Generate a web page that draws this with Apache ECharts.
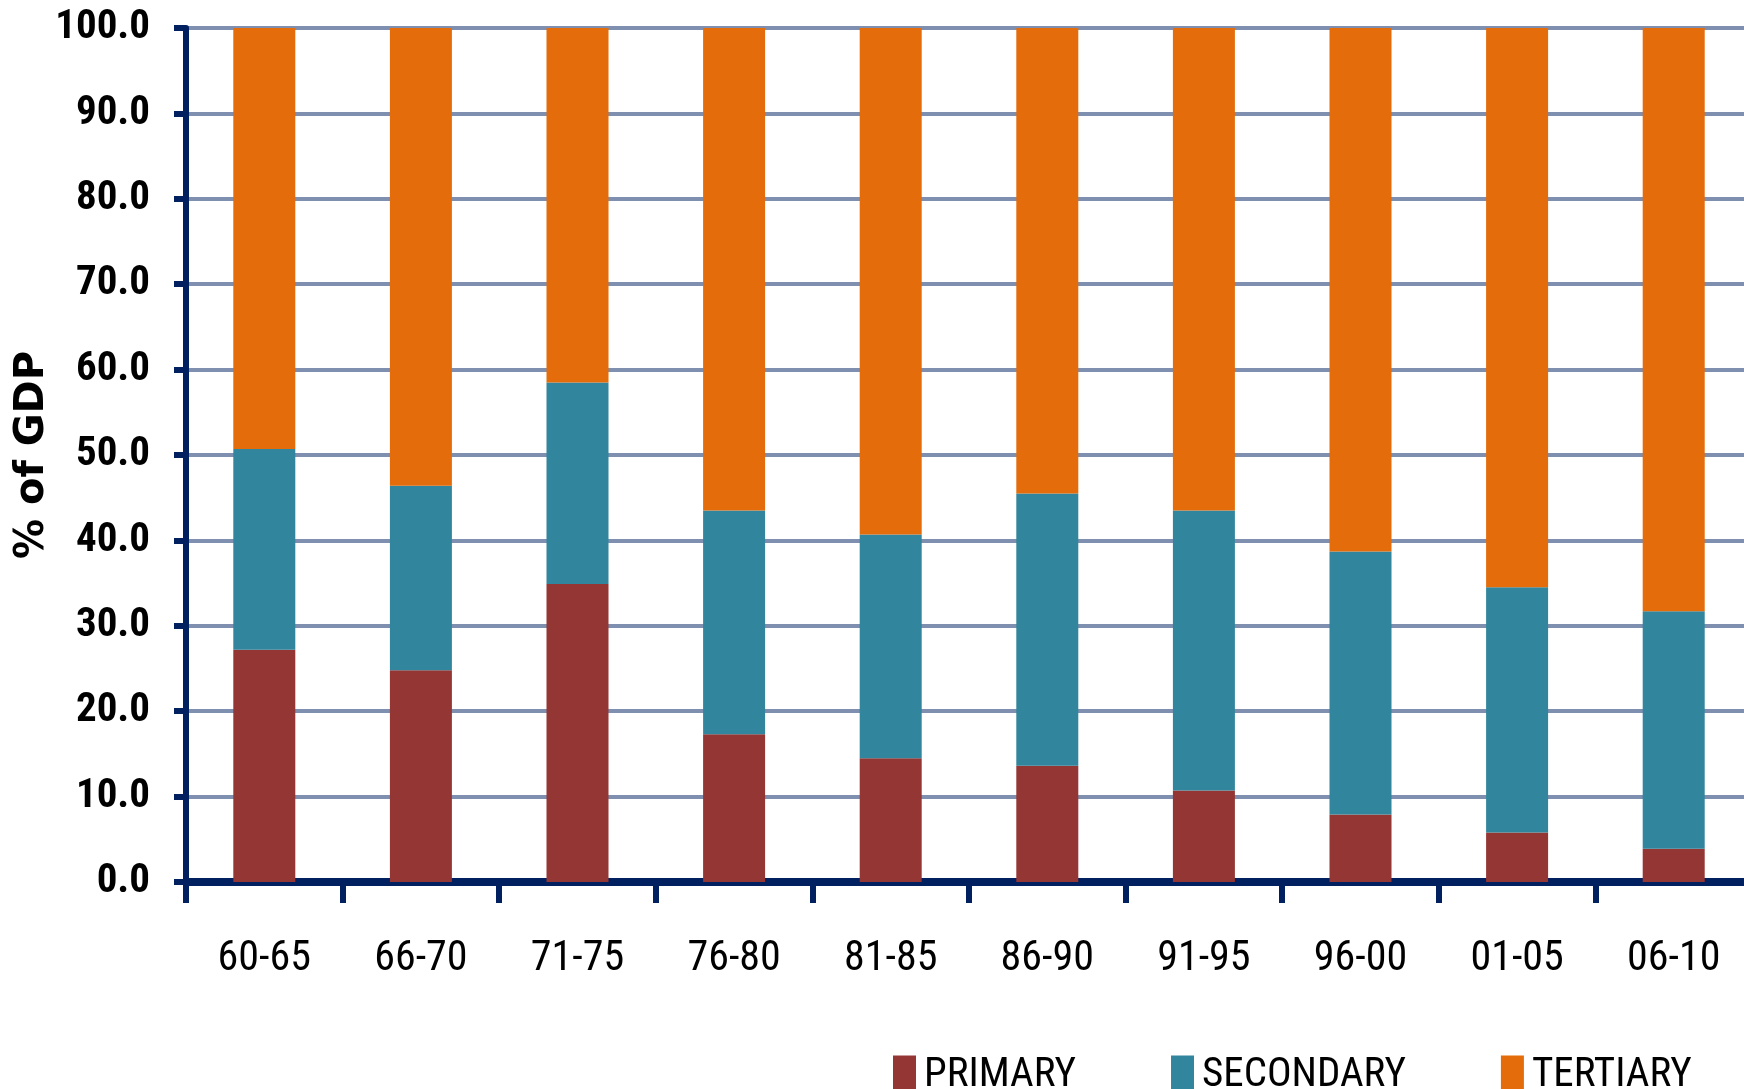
<!DOCTYPE html>
<html>
<head>
<meta charset="utf-8">
<script src="https://cdn.jsdelivr.net/npm/echarts@6/dist/echarts.min.js"></script>
<style>
  html, body { margin: 0; padding: 0; background: #fff; }
  #chart { width: 1744px; height: 1089px; }
</style>
</head>
<body>
<div id="chart"></div>
<script>
// Sector shares of GDP by five-year period
const categories = ['60-65', '66-70', '71-75', '76-80', '81-85', '86-90', '91-95', '96-00', '01-05', '06-10'];
const primary    = [27.2, 24.8, 34.9, 17.3, 14.5, 13.6, 10.7, 7.9, 5.8, 3.9];
const secondary  = [23.5, 21.6, 23.6, 26.2, 26.2, 31.9, 32.8, 30.8, 28.7, 27.8];
const tertiary   = [49.3, 53.6, 41.5, 56.5, 59.3, 54.5, 56.5, 61.3, 65.5, 68.3];
const seriesNames = ['PRIMARY', 'SECONDARY', 'TERTIARY'];
const seriesColors = ['#943634', '#31859C', '#E46C0A'];

const NAVY = '#002060';
const condensed = '"Roboto Condensed", "DejaVu Sans Condensed", sans-serif';

const chart = echarts.init(document.getElementById('chart'));
chart.setOption({
  animation: false,
  backgroundColor: '#ffffff',
  grid: { left: 186, right: -8, top: 28, bottom: 207, containLabel: false, outerBoundsMode: 'none' },
  legend: {
    data: seriesNames,
    left: 893,
    top: 1055,
    padding: 0,
    icon: 'rect',
    itemWidth: 23,
    itemHeight: 40,
    itemGap: 95,
    textStyle: { fontFamily: condensed, fontSize: 41, color: '#000', padding: [0, 0, 10, 3] }
  },
  xAxis: {
    type: 'category',
    data: categories,
    axisLine: { lineStyle: { color: NAVY, width: 8 } },
    axisTick: { show: true, interval: 0, length: 21, lineStyle: { color: NAVY, width: 6 } },
    axisLabel: { margin: 56, fontFamily: condensed, fontSize: 42, color: '#000', interval: 0 }
  },
  yAxis: {
    type: 'value',
    min: 0, max: 100, interval: 10,
    name: '% of GDP',
    nameLocation: 'middle',
    nameGap: 133,
    nameRotate: 90,
    nameMoveOverlap: false,
    nameTextStyle: { fontFamily: '"DejaVu Sans"', fontWeight: 'bold', fontSize: 40, color: '#000' },
    axisLine: { show: true, lineStyle: { color: NAVY, width: 6 } },
    axisTick: { show: true, length: 12, lineStyle: { color: NAVY, width: 6 } },
    axisLabel: {
      margin: 36, fontFamily: condensed, fontWeight: 'bold', fontSize: 41, color: '#000',
      formatter: v => v.toFixed(1)
    },
    splitLine: { show: true, lineStyle: { color: '#7F8FB0', width: 4 } }
  },
  series: [
    { name: seriesNames[0], type: 'bar', stack: 'gdp', data: primary, barWidth: 62, itemStyle: { color: seriesColors[0] } },
    { name: seriesNames[1], type: 'bar', stack: 'gdp', data: secondary, barWidth: 62, itemStyle: { color: seriesColors[1] } },
    { name: seriesNames[2], type: 'bar', stack: 'gdp', data: tertiary, barWidth: 62, itemStyle: { color: seriesColors[2] } }
  ]
});
</script>
</body>
</html>
